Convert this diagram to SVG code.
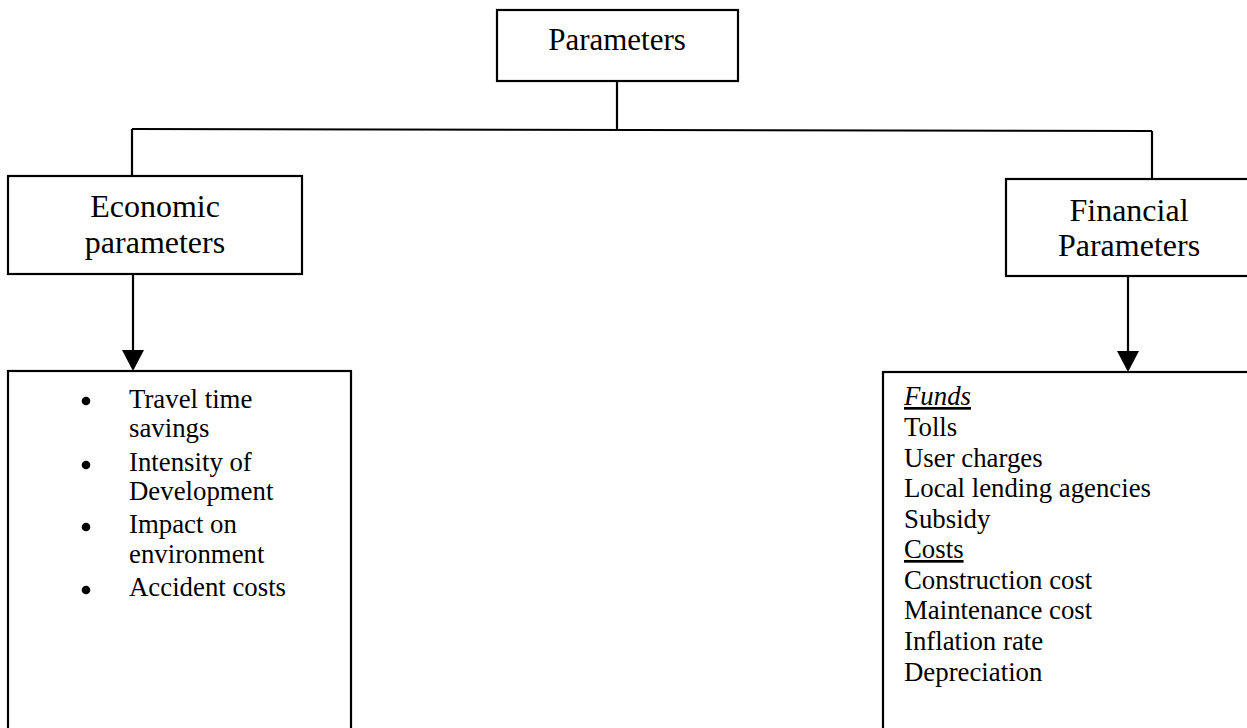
<svg xmlns="http://www.w3.org/2000/svg" width="1247" height="728" viewBox="0 0 1247 728">
  <defs>
    <style>
      .box { fill: #ffffff; stroke: #000000; stroke-width: 2.2; }
      .wire { fill: none; stroke: #000000; stroke-width: 2.2; }
      .head { font-family: "Liberation Serif", "Times New Roman", serif; font-size: 32px; fill: #000000; text-anchor: middle; }
      .title { font-family: "Liberation Serif", "Times New Roman", serif; font-size: 31px; fill: #000000; text-anchor: middle; }
      .item { font-family: "Liberation Serif", "Times New Roman", serif; font-size: 26.8px; fill: #000000; }
      .dot { fill: #000000; }
    </style>
  </defs>
  <rect width="1247" height="728" fill="#ffffff"/>

  <!-- connectors: tree lines and the two downward arrows -->
  <g id="connectors">
    <path class="wire" d="M617,81 L617,129"/>
    <path class="wire" d="M132,129 L1152,131"/>
    <path class="wire" d="M132,129 L132,176"/>
    <path class="wire" d="M1152,131 L1152,179"/>
    <path class="wire" d="M133,274 L133,352"/>
    <path d="M122,350 L144,350 L133,371 Z" fill="#000000"/>
    <path class="wire" d="M1128,276 L1128,353"/>
    <path d="M1117,351 L1139,351 L1128,372 Z" fill="#000000"/>
  </g>

  <!-- root node -->
  <g id="node-parameters">
    <rect class="box" x="497" y="10" width="241" height="71"/>
    <text class="title" x="617" y="50">Parameters</text>
  </g>

  <!-- economic branch -->
  <g id="node-economic">
    <rect class="box" x="8" y="176" width="294" height="98"/>
    <text class="head" x="155" y="217">Economic</text>
    <text class="head" x="155" y="253">parameters</text>
  </g>

  <g id="node-economic-list">
    <rect class="box" x="8" y="371" width="343" height="380"/>
    <circle class="dot" cx="86" cy="401" r="4.3"/>
    <circle class="dot" cx="86" cy="465" r="4.3"/>
    <circle class="dot" cx="86" cy="527" r="4.3"/>
    <circle class="dot" cx="86" cy="590" r="4.3"/>
    <text class="item" x="129" y="408">Travel time</text>
    <text class="item" x="129" y="437">savings</text>
    <text class="item" x="129" y="471">Intensity of</text>
    <text class="item" x="129" y="500">Development</text>
    <text class="item" x="129" y="533">Impact on</text>
    <text class="item" x="129" y="563">environment</text>
    <text class="item" x="129" y="596">Accident costs</text>
  </g>

  <!-- financial branch -->
  <g id="node-financial">
    <rect class="box" x="1006" y="179" width="260" height="97"/>
    <text class="head" x="1129" y="221">Financial</text>
    <text class="head" x="1129" y="256">Parameters</text>
  </g>

  <g id="node-financial-list">
    <rect class="box" x="883" y="372" width="380" height="380"/>
    <text class="item" x="904" y="405" font-style="italic" text-decoration="underline">Funds</text>
    <text class="item" x="904" y="436">Tolls</text>
    <text class="item" x="904" y="467">User charges</text>
    <text class="item" x="904" y="497">Local lending agencies</text>
    <text class="item" x="904" y="528">Subsidy</text>
    <text class="item" x="904" y="558" text-decoration="underline">Costs</text>
    <text class="item" x="904" y="589">Construction cost</text>
    <text class="item" x="904" y="619">Maintenance cost</text>
    <text class="item" x="904" y="650">Inflation rate</text>
    <text class="item" x="904" y="681">Depreciation</text>
  </g>
</svg>
